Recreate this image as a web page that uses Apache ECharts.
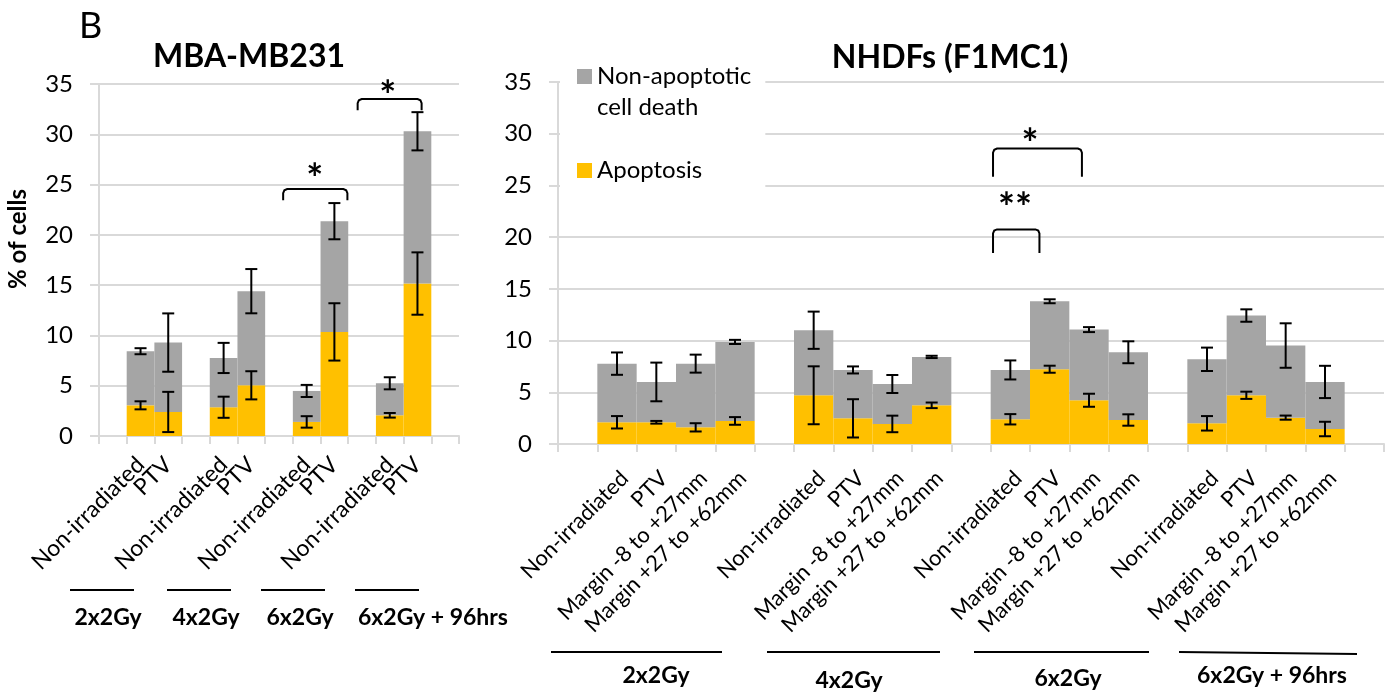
<!DOCTYPE html>
<html>
<head>
<meta charset="utf-8">
<script src="https://cdn.jsdelivr.net/npm/echarts@6/dist/echarts.min.js"></script>
<style>html,body{margin:0;padding:0;background:#fff}#c{width:1393px;height:692px}</style>
</head>
<body>
<div id="c"></div>
<script>
const FONT = 'Lato, "Open Sans", "Noto Sans", sans-serif';

// ---------- Left panel: MBA-MB231 ----------
const leftCategories = ['', 'Non-irradiated', 'PTV', '', 'Non-irradiated', 'PTV', '', 'Non-irradiated', 'PTV', '', 'Non-irradiated', 'PTV', ''];
const leftApoptosis = [null, 3.05, 2.39, null, 2.86, 5.04, null, 1.40, 10.35, null, 2.06, 15.16, null];
const leftApoptosisErr = [null, 0.4, 2.0, null, 1.05, 1.4, null, 0.57, 2.85, null, 0.23, 3.1, null];
const leftNonApoptotic = [null, 5.38, 6.90, null, 4.90, 9.36, null, 3.08, 11.01, null, 3.18, 15.14, null];
const leftNonApoptoticErr = [null, 0.3, 2.9, null, 1.5, 2.2, null, 0.6, 1.8, null, 0.6, 1.9, null];
// brackets: [xStart, xEnd, yTop, yLegEnd] (x in category-width units from the axis start)
const leftBrackets = [[6.65, 8.97, 24.55, 23.45], [9.34, 11.65, 33.5, 32.4]];
const leftStars = [['*', 7.79, 26.4], ['*', 10.43, 34.7]];
const leftGroups = ['2x2Gy', '4x2Gy', '6x2Gy', '6x2Gy + 96hrs'];

// ---------- Right panel: NHDFs (F1MC1) ----------
const rightCategories = ['',
  'Non-irradiated', 'PTV', 'Margin -8 to +27mm', 'Margin +27 to +62mm', '',
  'Non-irradiated', 'PTV', 'Margin -8 to +27mm', 'Margin +27 to +62mm', '',
  'Non-irradiated', 'PTV', 'Margin -8 to +27mm', 'Margin +27 to +62mm', '',
  'Non-irradiated', 'PTV', 'Margin -8 to +27mm', 'Margin +27 to +62mm', ''];
const rightApoptosis = [null, 2.10, 2.10, 1.61, 2.23, null, 4.71, 2.48, 1.94, 3.74, null, 2.39, 7.23, 4.23, 2.32, null, 2.00, 4.71, 2.55, 1.45, null];
const rightApoptosisErr = [null, 0.6, 0.13, 0.4, 0.37, null, 2.8, 1.85, 0.8, 0.27, null, 0.5, 0.34, 0.63, 0.55, null, 0.7, 0.35, 0.2, 0.7, null];
const rightNonApoptotic = [null, 5.67, 3.90, 6.16, 7.64, null, 6.29, 4.68, 3.86, 4.68, null, 4.77, 6.57, 6.83, 6.55, null, 6.19, 7.71, 6.97, 4.55, null];
const rightNonApoptoticErr = [null, 1.08, 1.87, 0.87, 0.2, null, 1.8, 0.34, 0.87, 0.11, null, 0.92, 0.19, 0.24, 1.06, null, 1.13, 0.6, 2.15, 1.56, null];
const rightBrackets = [[11.06, 13.32, 28.56, 25.85], [11.06, 12.24, 20.75, 18.46]];
const rightStars = [['*', 12.0, 29.85], ['**', 11.62, 23.7]];
const rightGroups = ['2x2Gy', '4x2Gy', '6x2Gy', '6x2Gy + 96hrs'];

const yTicks = [0, 5, 10, 15, 20, 25, 30, 35];

const GRID_COLOR = '#d9d9d9';
const YELLOW = '#FFC000';
const GRAY = '#A5A5A5';
const STAR_SIZE = 40;

function errData(apop, apopErr, non, nonErr) {
  const out = [];
  apop.forEach((v, i) => {
    if (v == null) return;
    out.push([i, v, apopErr[i]]);
    out.push([i, v + non[i], nonErr[i]]);
  });
  return out;
}

function errorRender(params, api) {
  const idx = api.value(0), base = api.value(1), err = api.value(2);
  const hi = api.coord([idx, base + err]);
  const lo = api.coord([idx, base - err]);
  const cap = 6;
  const style = { stroke: '#000', lineWidth: 2, fill: null };
  return {
    type: 'group', children: [
      { type: 'line', shape: { x1: hi[0], y1: hi[1], x2: lo[0], y2: lo[1] }, style },
      { type: 'line', shape: { x1: hi[0] - cap, y1: hi[1], x2: hi[0] + cap, y2: hi[1] }, style },
      { type: 'line', shape: { x1: lo[0] - cap, y1: lo[1], x2: lo[0] + cap, y2: lo[1] }, style }
    ]
  };
}

function bracketRender(params, api) {
  const x0 = api.value(0), x1 = api.value(1), yTop = api.value(2), yLeg = api.value(3);
  const a = api.coord([x0, yLeg]), b = api.coord([x0, yTop]);
  const c = api.coord([x1, yTop]), d = api.coord([x1, yLeg]);
  const r = 4;
  return {
    type: 'polyline',
    shape: { points: [a, [b[0], b[1] + r], [b[0] + r * 0.3, b[1] + r * 0.3], [b[0] + r, b[1]],
      [c[0] - r, c[1]], [c[0] - r * 0.3, c[1] + r * 0.3], [c[0], c[1] + r], d] },
    style: { stroke: '#000', lineWidth: 2, fill: null }
  };
}

function starRender(params, api) {
  const p = api.coord([api.value(1), api.value(2)]);
  return {
    type: 'text', x: p[0], y: p[1] + STAR_SIZE * 0.25,
    style: { text: api.value(0), font: 'bold ' + STAR_SIZE + 'px ' + FONT, fill: '#000', align: 'center', verticalAlign: 'middle' }
  };
}

function catAxis(gridIndex, cats, margin, size, vAlign) {
  return {
    type: 'category', gridIndex, data: cats,
    axisLine: { show: true, lineStyle: { color: GRID_COLOR, width: 2 } },
    axisTick: { show: true, interval: 0, length: 8, lineStyle: { color: GRID_COLOR, width: 2 } },
    axisLabel: { interval: 0, rotate: 45, margin, verticalAlign: vAlign, fontSize: size, fontFamily: FONT, color: '#000' },
    splitLine: { show: false }
  };
}
function annAxis(gridIndex, n) {
  return { type: 'value', gridIndex, min: 0, max: n, show: false, splitLine: { show: false } };
}
function valAxis(gridIndex) {
  return {
    type: 'value', gridIndex, min: 0, max: 35, interval: 5,
    axisLine: { show: true, lineStyle: { color: GRID_COLOR, width: 2 } },
    axisTick: { show: true, length: 9, lineStyle: { color: GRID_COLOR, width: 2 } },
    axisLabel: { margin: 26, fontSize: 24, fontFamily: FONT, color: '#000',
      formatter: v => yTicks.includes(v) ? String(v) : '' },
    splitLine: { show: true, lineStyle: { color: GRID_COLOR, width: 2 } }
  };
}

const NON = 'Non-apoptotic cell death';
const APO = 'Apoptosis';

function groupGraphics(lines, lineY, labels) {
  const g = [];
  lines.forEach(l => g.push({ type: 'line', shape: { x1: l[0], y1: lineY, x2: l[1], y2: l[2] == null ? lineY : l[2] },
    style: { stroke: '#000', lineWidth: 2 } }));
  labels.forEach(t => g.push({ type: 'text', x: t[1], y: t[2],
    style: { text: t[0], font: 'bold 23px ' + FONT, fill: '#000', align: t[3] || 'center', verticalAlign: 'middle' } }));
  return g;
}

const graphics = [
  { type: 'text', x: 79, y: 26, style: { text: 'B', font: '36px ' + FONT, fill: '#000', align: 'left', verticalAlign: 'middle' } },
  { type: 'text', x: 249, y: 57, style: { text: 'MBA-MB231', font: 'bold 32px ' + FONT, fill: '#000', align: 'center', verticalAlign: 'middle' } },
  { type: 'text', x: 950, y: 58, style: { text: 'NHDFs (F1MC1)', font: 'bold 32px ' + FONT, fill: '#000', align: 'center', verticalAlign: 'middle' } },
  { type: 'text', x: 18, y: 239, rotation: Math.PI / 2, style: { text: '% of cells', font: 'bold 24px ' + FONT, fill: '#000', align: 'center', verticalAlign: 'middle' } }
].concat(
  groupGraphics([[70, 134], [167, 231], [261, 325], [355, 419]], 590,
    [[leftGroups[0], 108, 618], [leftGroups[1], 206, 618], [leftGroups[2], 300, 618], [leftGroups[3], 358, 618, 'left']]),
  groupGraphics([[551, 722], [767, 940], [974, 1149], [1179, 1357, 654]], 652,
    [[rightGroups[0], 656, 676], [rightGroups[1], 849, 681], [rightGroups[2], 1068, 679], [rightGroups[3], 1272, 676]])
);

const option = {
  animation: false,
  backgroundColor: '#fff',
  textStyle: { fontFamily: FONT },
  grid: [
    { left: 99, top: 84, width: 360, height: 352 },
    { left: 558, top: 82, width: 826, height: 362 }
  ],
  legend: {
    orient: 'vertical', left: 560, top: 30, padding: [0, 14, 10, 17],
    backgroundColor: '#fff', itemWidth: 15, itemHeight: 15, itemGap: 32, icon: 'rect',
    selectedMode: false,
    data: [{ name: NON }, { name: APO }],
    formatter: n => n === NON ? ' \nNon-apoptotic\ncell death' : n,
    textStyle: { fontSize: 24, lineHeight: 31, fontFamily: FONT, color: '#000' }
  },
  xAxis: [catAxis(0, leftCategories, 25, 23, 'middle'), catAxis(1, rightCategories, 23, 22, 'top'),
    annAxis(0, leftCategories.length), annAxis(1, rightCategories.length)],
  yAxis: [valAxis(0), valAxis(1)],
  series: [
    { name: APO, type: 'bar', stack: 'L', xAxisIndex: 0, yAxisIndex: 0, data: leftApoptosis, barWidth: '100%', barGap: '0%', itemStyle: { color: YELLOW } },
    { name: NON, type: 'bar', stack: 'L', xAxisIndex: 0, yAxisIndex: 0, data: leftNonApoptotic, barWidth: '100%', barGap: '0%', itemStyle: { color: GRAY } },
    { name: APO, type: 'bar', stack: 'R', xAxisIndex: 1, yAxisIndex: 1, data: rightApoptosis, barWidth: '100%', barGap: '0%', itemStyle: { color: YELLOW } },
    { name: NON, type: 'bar', stack: 'R', xAxisIndex: 1, yAxisIndex: 1, data: rightNonApoptotic, barWidth: '100%', barGap: '0%', itemStyle: { color: GRAY } },
    { type: 'custom', xAxisIndex: 0, yAxisIndex: 0, z: 10, renderItem: errorRender, encode: { x: 0, y: 1 },
      data: errData(leftApoptosis, leftApoptosisErr, leftNonApoptotic, leftNonApoptoticErr) },
    { type: 'custom', xAxisIndex: 1, yAxisIndex: 1, z: 10, renderItem: errorRender, encode: { x: 0, y: 1 },
      data: errData(rightApoptosis, rightApoptosisErr, rightNonApoptotic, rightNonApoptoticErr) },
    { type: 'custom', xAxisIndex: 2, yAxisIndex: 0, z: 10, renderItem: bracketRender, encode: { x: [0, 1], y: [2, 3] }, data: leftBrackets },
    { type: 'custom', xAxisIndex: 3, yAxisIndex: 1, z: 10, renderItem: bracketRender, encode: { x: [0, 1], y: [2, 3] }, data: rightBrackets },
    { type: 'custom', xAxisIndex: 2, yAxisIndex: 0, z: 10, renderItem: starRender, encode: { x: 1, y: 2 }, data: leftStars },
    { type: 'custom', xAxisIndex: 3, yAxisIndex: 1, z: 10, renderItem: starRender, encode: { x: 1, y: 2 }, data: rightStars }
  ],
  graphic: graphics
};

const chart = echarts.init(document.getElementById('c'), null, { renderer: 'canvas' });
chart.setOption(option);
</script>
</body>
</html>
